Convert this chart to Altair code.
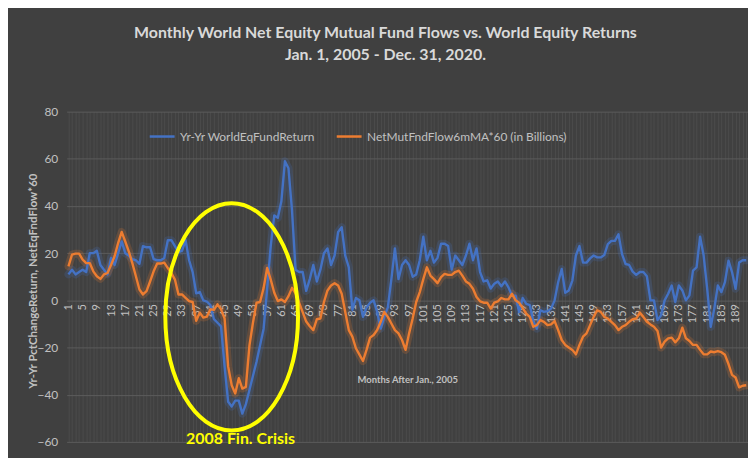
import altair as alt
import pandas as pd

months = list(range(1, 193))

fund_return = [
    11, 13, 11, 12, 13, 12, 20, 20, 21, 15,
    13, 11, 18, 15, 20, 25, 20, 19, 17.5, 17,
    15.5, 23, 22.5, 22.5, 17.5, 17, 17, 18, 25.5, 25.5,
    23, 20.5, 21, 25.5, 17, 12, 3, 3.5, 0, -0.5,
    -2, -8, -9.5, -11, -28, -43, -45, -42.5, -42.5, -48,
    -44, -38, -32, -26, -19, -12, 5, 23, 36, 35,
    42, 59, 56, 38, 13, 12, 12, 4, 9, 15,
    8, 13, 20, 22, 15, 19, 29, 31, 19, 14,
    -4, 1, 0, -7, -3, -1, 0, -5, -12, -7,
    -3, 9, 22, 9, 15, 17, 15, 10, 11, 17,
    27, 17, 21, 16, 18, 24, 24, 23, 13, 19,
    17, 15, 19, 24, 17, 22, 12, 8, 8.5, 5,
    7, 8, 6, 8, 5.5, 2, 2, -5, 1, -1.5,
    -2, -9, -12, -4.2, -4.9, -4.6, -3.5, 0, 7.7, 13.3,
    3.2, 4.2, 8.4, 19, 23, 16, 16, 17.8, 19, 18.2,
    18.2, 19.2, 23.8, 25.2, 25.2, 28, 19.6, 15.4, 15, 12.2,
    10.8, 12, 12, 10.2, 0, 0, -8.4, -6.3, 0, 2.8,
    6.3, -0.7, 6.3, 4.2, 0, 2.1, 12.6, 14, 27, 19,
    4.9, -11.2, -3.5, 6.3, 3.5, 7.7, 16.8, 12, 4.9, 16,
    17, 17,
]

net_flow = [
    14.4, 19.4, 19.8, 19.8, 17.3, 15.8, 15.8, 12.3, 10.2, 9.1,
    11, 11.6, 15, 18.7, 24.3, 29, 25, 20.8, 15.8, 10.2,
    4.6, 2.5, 3.9, 8, 12.3, 15.6, 15.6, 16, 13.7, 11.6,
    8.8, 2.5, 2.5, 1.1, -0.3, -0.7, -8.7, -5.2, -7.3, -6.9,
    -3.8, -4, -1.7, -3.8, -7.7, -28, -36, -39.5, -33, -37.4,
    -36.7, -19.2, -9.4, -1, -0.7, 5.3, 13.7, 8.8, 3.2, -0.3,
    0.4, -0.7, 1.8, 5.3, 3, -1, -5, -9, -11, -12.6,
    -8, -7.7, -0.7, 4.2, 6.3, 7.3, 6.3, 2.8, -4.9, -12.6,
    -15.4, -20.3, -23, -25.7, -21, -15.8, -14.7, -12.6, -9.1, -4.9,
    -7, -9.8, -12.6, -14, -16.8, -21, -14, -7.7, -0.7, 3.5,
    9, 14, 10.5, 9, 7.3, 9.8, 11.2, 10.8, 10.8, 12,
    12.6, 10.5, 8, 7, 4.9, 1.4, -0.4, -1, -1, -3.5,
    -1, -0.4, 1, 0.4, 0.4, 2.8, 0, -1, -3.2, -5.6,
    -7, -11.2, -10.5, -8.4, -9.1, -10.5, -10.2, -8.8, -12.6, -16.8,
    -18.9, -20, -21, -22.9, -18.9, -15.4, -14, -10.5, -7, -4.2,
    -4.9, -7, -7.7, -9.1, -10.5, -12.6, -11.2, -10.5, -9.1, -8,
    -7.7, -5.2, -7, -9.1, -10.2, -11.2, -13, -20, -17.5, -16.1,
    -15.8, -17.8, -16.1, -11.6, -16.1, -17.2, -18.9, -18.9, -21, -22.9,
    -22.9, -21.7, -22, -21.5, -22, -23.1, -27, -31.6, -32.7, -36.9,
    -36.2, -36,
]

series_names = ["Yr-Yr WorldEqFundReturn", "NetMutFndFlow6mMA*60 (in Billions)"]
series_colors = ["#4472c4", "#ed7d31"]
y_ticks = [-60, -40, -20, 0, 20, 40, 60, 80]

title_lines = [
    "Monthly World Net Equity Mutual Fund Flows vs. World Equity Returns",
    "Jan. 1, 2005 - Dec. 31, 2020.",
]
y_title = "Yr-Yr PctChangeReturn, NetEqFndFlow*60"
x_title = "Months After Jan., 2005"
crisis_label = "2008 Fin. Crisis"
crisis_center = [47.0, -7.0]
crisis_text_pos = [49.5, -58.6]
x_title_pos = [96.6, -33.7]

assert len(fund_return) == len(months) and len(net_flow) == len(months)

df = pd.DataFrame({
    "month": months + months,
    "value": fund_return + net_flow,
    "series": [series_names[0]] * len(months) + [series_names[1]] * len(months),
})

FONT = "Lato"
LABEL = "#c0c0c0"
BG = "#404040"

x_enc = alt.X(
    "month:Q",
    scale=alt.Scale(domain=[0.5, len(months) + 0.5], nice=False, zero=False),
    axis=alt.Axis(
        values=months, grid=True, gridColor="#4c4c4c", gridWidth=1,
        ticks=False, domain=False,
        labelExpr="(datum.value - 1) % 4 == 0 ? datum.label : ''",
        labelAngle=270, labelAlign="right", labelBaseline="middle",
        labelColor=LABEL, labelFontSize=11, labelFont=FONT, labelPadding=3,
        labelOverlap=False, labelBound=False, offset=-142, title=None,
    ),
)
y_enc = alt.Y(
    "value:Q",
    scale=alt.Scale(domain=[-60, 80], nice=False),
    axis=alt.Axis(
        values=y_ticks, grid=True, gridColor="#5c5c5c", ticks=False, domain=False,
        labelColor=LABEL, labelFontSize=12, labelFont=FONT, labelPadding=9,
        title=y_title, titleColor=LABEL, titleFontSize=11.5, titleFont=FONT,
        titleFontWeight="bold", titleX=-28, titleY=170, titleAngle=270,
        titleAlign="center", titleBaseline="bottom",
    ),
)
legend = alt.Legend(
    orient="none", legendX=82, legendY=11, direction="horizontal", title=None,
    symbolType="stroke", symbolStrokeWidth=2.5, symbolSize=625, symbolOpacity=1,
    labelColor=LABEL, labelFontSize=12, labelFont=FONT, columnPadding=16,
    labelLimit=400, padding=0,
)
color_enc = alt.Color("series:N", scale=alt.Scale(domain=series_names, range=series_colors), legend=legend)

glow = alt.Chart(df).mark_line(strokeWidth=8, opacity=0.2, strokeJoin="round", strokeCap="round").encode(
    x=x_enc, y=y_enc, color=color_enc
)
lines = alt.Chart(df).mark_line(strokeWidth=2.4, strokeJoin="round").encode(
    x=x_enc, y=y_enc, color=color_enc
)

# ellipse outline (unit path, aspect rx/ry = 0.5836), drawn with cubic Bezier quarters
ellipse_path = (
    "M 0 -1 C 0.3223 -1 0.5836 -0.5523 0.5836 0 "
    "C 0.5836 0.5523 0.3223 1 0 1 "
    "C -0.3223 1 -0.5836 0.5523 -0.5836 0 "
    "C -0.5836 -0.5523 -0.3223 -1 0 -1 Z"
)
ell_df = pd.DataFrame({"month": [crisis_center[0]], "value": [crisis_center[1]]})
ellipse = alt.Chart(ell_df).mark_point(
    shape=ellipse_path, size=52258, filled=False, stroke="#ffff00", strokeWidth=4, opacity=1
).encode(x=x_enc, y=y_enc)

crisis_df = pd.DataFrame({"month": [crisis_text_pos[0]], "value": [crisis_text_pos[1]], "label": [crisis_label]})
crisis_text = alt.Chart(crisis_df).mark_text(
    font=FONT, fontSize=16, fontWeight="bold", color="#ffff00", baseline="middle", align="center"
).encode(x=x_enc, y=y_enc, text="label:N")

xt_df = pd.DataFrame({"month": [x_title_pos[0]], "value": [x_title_pos[1]], "label": [x_title]})
xt_text = alt.Chart(xt_df).mark_text(
    font=FONT, fontSize=9.5, fontWeight="bold", color=LABEL, baseline="middle", align="center"
).encode(x=x_enc, y=y_enc, text="label:N")

chart = alt.layer(glow, lines, ellipse, crisis_text, xt_text).properties(
    width=685, height=332,
    autosize="none",
    padding={"left": 59, "top": 103, "right": 0, "bottom": 15},
    background=BG,
    title=alt.TitleParams(
        text=title_lines, anchor="middle", font=FONT, fontSize=16, fontWeight="bold",
        color="#d9d9d9", lineHeight=22, offset=43, dx=-22,
    ),
).configure_view(stroke=None)

chart.save("out.html", embed_options={"renderer": "svg", "actions": False})
